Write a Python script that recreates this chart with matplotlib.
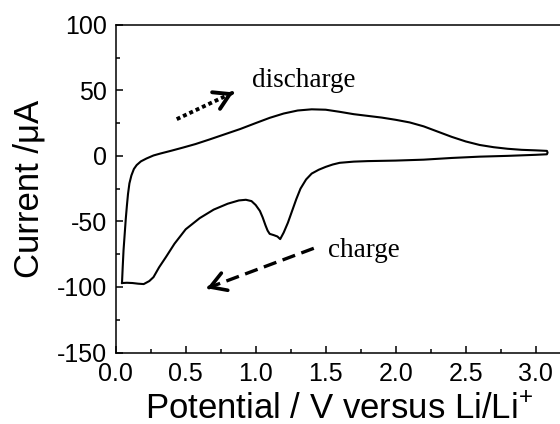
import matplotlib
matplotlib.use('Agg')
import matplotlib.pyplot as plt
from matplotlib.ticker import MultipleLocator

plt.rcParams['font.family'] = ['Liberation Sans', 'DejaVu Sans']
plt.rcParams['mathtext.fontset'] = 'custom'
plt.rcParams['mathtext.rm'] = 'Liberation Sans'
plt.rcParams['mathtext.default'] = 'regular'
plt.rcParams['axes.unicode_minus'] = False

# upper (discharge) branch, low -> high potential
up_V = [0.045, 0.05, 0.056, 0.064, 0.072, 0.080, 0.088, 0.098, 0.112, 0.13, 0.15, 0.18,
        0.22, 0.27, 0.32, 0.40, 0.48, 0.57, 0.67, 0.78, 0.89, 1.0, 1.1, 1.2, 1.3, 1.4,
        1.5, 1.6, 1.7, 1.8, 1.9, 2.0, 2.1, 2.2, 2.3, 2.4, 2.5, 2.6, 2.7, 2.8, 2.9, 3.0,
        3.08, 3.085]
up_I = [-97, -85, -72, -60, -48, -38, -29, -21, -15, -10, -7, -4.2,
        -2, 0.3, 1.8, 4.0, 6.3, 9.0, 12.5, 16.5, 20.5, 25, 29, 32.3, 34.6, 35.5,
        35.2, 33.6, 31.8, 30.5, 29.2, 27.5, 25.5, 22.5, 18.5, 14.5, 11, 8.3, 6.6, 5.4, 4.6, 4.2,
        3.8, 2.5]

# lower (charge) branch, high -> low potential
low_V = [3.08, 3.0, 2.8, 2.6, 2.4, 2.2, 2.0, 1.8, 1.7, 1.6, 1.55, 1.5, 1.45, 1.4, 1.36,
         1.32, 1.29, 1.26, 1.23, 1.2, 1.175, 1.155, 1.13, 1.10, 1.085, 1.07, 1.05, 1.03,
         1.0, 0.97, 0.93, 0.88, 0.8, 0.7, 0.6, 0.5, 0.42, 0.36, 0.31, 0.27, 0.24, 0.2,
         0.16, 0.12, 0.08, 0.045]
low_I = [1.2, 0.8, 0.0, -0.6, -1.6, -2.9, -3.6, -4.0, -4.4, -5.3, -6.6, -8.4, -10.6, -13.5, -18,
         -25, -33, -42, -51, -58.5, -63.5, -61.5, -60.5, -59.5, -57, -53, -47, -42,
         -37.5, -34.5, -33.5, -34, -36.5, -41, -47.5, -56, -67, -77, -85, -92.5, -95.5, -97.8,
         -97.5, -97.0, -96.8, -97]

# arrows (tail, tip) and labels
discharge_arrow = [(0.436, 28), (0.84, 48.4)]
charge_arrow = [(1.415, -70.5), (0.652, -101)]
discharge_label = (0.974, 52.2)
charge_label = (1.516, -77)

fig = plt.figure(figsize=(5.6, 4.24), dpi=100)
ax = fig.add_axes([0.2066, 0.1686, 0.8, 0.773])

V = up_V + low_V
I = up_I + low_I
ax.plot(V, I, color='black', lw=1.5)

# dotted arrow
(x0, y0), (x1, y1) = discharge_arrow
ax.plot([x0, x1 - 0.05 * (x1 - x0)], [y0, y1 - 0.05 * (y1 - y0)], color='black',
        lw=2.8, dashes=(1, 0.8), dash_capstyle='butt')
ax.annotate('', xy=(x1, y1), xytext=(x1 - 0.02 * (x1 - x0), y1 - 0.02 * (y1 - y0)),
            arrowprops=dict(arrowstyle='->,head_length=0.5,head_width=0.3', lw=2.8,
                            color='black', mutation_scale=22, shrinkA=0, shrinkB=0))

# dashed arrow
(x0, y0), (x1, y1) = charge_arrow
ax.plot([x0, x1 - 0.03 * (x1 - x0)], [y0, y1 - 0.03 * (y1 - y0)], color='black',
        lw=2.4, dashes=(4, 2), dash_capstyle='butt')
ax.annotate('', xy=(x1, y1), xytext=(x1 - 0.02 * (x1 - x0), y1 - 0.02 * (y1 - y0)),
            arrowprops=dict(arrowstyle='->,head_length=0.5,head_width=0.3', lw=2.6,
                            color='black', mutation_scale=22, shrinkA=0, shrinkB=0))

ax.text(discharge_label[0], discharge_label[1], 'discharge', family='Liberation Serif',
        fontsize=19.5, ha='left', va='baseline')
ax.text(charge_label[0], charge_label[1], 'charge', family='Liberation Serif',
        fontsize=19.5, ha='left', va='baseline')

ax.set_xlim(0, 3.2)
ax.set_ylim(-150, 100)
ax.xaxis.set_major_locator(MultipleLocator(0.5))
ax.xaxis.set_minor_locator(MultipleLocator(0.25))
ax.yaxis.set_major_locator(MultipleLocator(50))
ax.yaxis.set_minor_locator(MultipleLocator(25))
ax.tick_params(which='both', direction='in', top=False, right=False, width=1.1)
ax.tick_params(which='major', length=5, labelsize=18)
ax.tick_params(axis='x', which='major', pad=7)
ax.tick_params(axis='y', which='major', pad=6.5)
ax.tick_params(which='minor', length=3)
ax.spines['right'].set_visible(False)
for s in ['top', 'left', 'bottom']:
    ax.spines[s].set_linewidth(1.1)

ax.set_xlabel('Potential / V versus Li/Li$^{\\!+}$', fontsize=25, labelpad=5)
ax.set_ylabel('Current /\u03bcA', fontsize=25, labelpad=8)

fig.savefig('out.png', dpi=100)
